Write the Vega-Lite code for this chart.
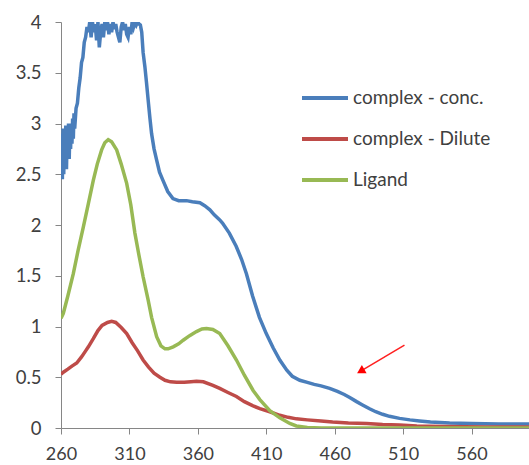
{
  "$schema": "https://vega.github.io/schema/vega-lite/v6.json",
  "width": 468,
  "height": 406,
  "autosize": {"type": "none"},
  "padding": {"left": 61, "top": 22, "right": 0, "bottom": 37},
  "background": "white",
  "config": {
    "view": {"stroke": null},
    "font": "Lato",
    "axis": {"grid": false, "domainColor": "#868686", "tickColor": "#868686", "labelColor": "#404040", "labelFont": "Lato", "labelFontSize": 18.5, "title": null}
  },
  "datasets": {
    "spectra": [
      {"w": 260, "a": 2.62, "s": "complex - conc."},
      {"w": 260.5, "a": 2.9, "s": "complex - conc."},
      {"w": 261, "a": 2.45, "s": "complex - conc."},
      {"w": 261.5, "a": 2.95, "s": "complex - conc."},
      {"w": 262, "a": 2.5, "s": "complex - conc."},
      {"w": 262.5, "a": 2.85, "s": "complex - conc."},
      {"w": 263, "a": 2.6, "s": "complex - conc."},
      {"w": 263.5, "a": 2.98, "s": "complex - conc."},
      {"w": 264, "a": 2.55, "s": "complex - conc."},
      {"w": 264.5, "a": 2.9, "s": "complex - conc."},
      {"w": 265, "a": 2.7, "s": "complex - conc."},
      {"w": 265.5, "a": 3.0, "s": "complex - conc."},
      {"w": 266, "a": 2.65, "s": "complex - conc."},
      {"w": 266.5, "a": 2.95, "s": "complex - conc."},
      {"w": 267, "a": 2.75, "s": "complex - conc."},
      {"w": 267.5, "a": 3.0, "s": "complex - conc."},
      {"w": 268, "a": 2.8, "s": "complex - conc."},
      {"w": 268.5, "a": 3.05, "s": "complex - conc."},
      {"w": 269, "a": 2.85, "s": "complex - conc."},
      {"w": 269.5, "a": 3.1, "s": "complex - conc."},
      {"w": 270, "a": 2.95, "s": "complex - conc."},
      {"w": 271, "a": 3.15, "s": "complex - conc."},
      {"w": 272, "a": 3.2, "s": "complex - conc."},
      {"w": 273, "a": 3.35, "s": "complex - conc."},
      {"w": 274, "a": 3.45, "s": "complex - conc."},
      {"w": 275, "a": 3.6, "s": "complex - conc."},
      {"w": 276, "a": 3.65, "s": "complex - conc."},
      {"w": 277, "a": 3.8, "s": "complex - conc."},
      {"w": 278, "a": 3.85, "s": "complex - conc."},
      {"w": 279, "a": 3.95, "s": "complex - conc."},
      {"w": 280, "a": 3.9, "s": "complex - conc."},
      {"w": 281, "a": 4.0, "s": "complex - conc."},
      {"w": 282, "a": 3.85, "s": "complex - conc."},
      {"w": 283, "a": 4.0, "s": "complex - conc."},
      {"w": 284, "a": 3.9, "s": "complex - conc."},
      {"w": 285, "a": 3.98, "s": "complex - conc."},
      {"w": 286, "a": 3.82, "s": "complex - conc."},
      {"w": 287, "a": 4.0, "s": "complex - conc."},
      {"w": 288, "a": 3.75, "s": "complex - conc."},
      {"w": 289, "a": 3.9, "s": "complex - conc."},
      {"w": 290, "a": 3.98, "s": "complex - conc."},
      {"w": 291, "a": 3.85, "s": "complex - conc."},
      {"w": 292, "a": 4.0, "s": "complex - conc."},
      {"w": 293, "a": 3.92, "s": "complex - conc."},
      {"w": 294, "a": 4.0, "s": "complex - conc."},
      {"w": 295, "a": 3.88, "s": "complex - conc."},
      {"w": 296, "a": 3.98, "s": "complex - conc."},
      {"w": 297, "a": 3.9, "s": "complex - conc."},
      {"w": 298, "a": 4.0, "s": "complex - conc."},
      {"w": 299, "a": 3.93, "s": "complex - conc."},
      {"w": 300, "a": 3.98, "s": "complex - conc."},
      {"w": 301, "a": 3.9, "s": "complex - conc."},
      {"w": 302, "a": 3.85, "s": "complex - conc."},
      {"w": 303, "a": 3.8, "s": "complex - conc."},
      {"w": 304, "a": 3.95, "s": "complex - conc."},
      {"w": 305, "a": 4.0, "s": "complex - conc."},
      {"w": 306, "a": 3.92, "s": "complex - conc."},
      {"w": 307, "a": 3.98, "s": "complex - conc."},
      {"w": 308, "a": 3.88, "s": "complex - conc."},
      {"w": 309, "a": 3.85, "s": "complex - conc."},
      {"w": 310, "a": 3.95, "s": "complex - conc."},
      {"w": 311, "a": 3.88, "s": "complex - conc."},
      {"w": 312, "a": 4.0, "s": "complex - conc."},
      {"w": 313, "a": 3.95, "s": "complex - conc."},
      {"w": 314, "a": 4.0, "s": "complex - conc."},
      {"w": 315, "a": 3.97, "s": "complex - conc."},
      {"w": 316, "a": 4.0, "s": "complex - conc."},
      {"w": 317, "a": 3.98, "s": "complex - conc."},
      {"w": 318, "a": 3.97, "s": "complex - conc."},
      {"w": 319, "a": 3.9, "s": "complex - conc."},
      {"w": 320, "a": 3.7, "s": "complex - conc."},
      {"w": 321.3, "a": 3.56, "s": "complex - conc."},
      {"w": 322.5, "a": 3.4, "s": "complex - conc."},
      {"w": 323.7, "a": 3.23, "s": "complex - conc."},
      {"w": 325, "a": 3.05, "s": "complex - conc."},
      {"w": 326.2, "a": 2.9, "s": "complex - conc."},
      {"w": 328, "a": 2.75, "s": "complex - conc."},
      {"w": 329.9, "a": 2.64, "s": "complex - conc."},
      {"w": 332, "a": 2.52, "s": "complex - conc."},
      {"w": 334.5, "a": 2.44, "s": "complex - conc."},
      {"w": 338, "a": 2.33, "s": "complex - conc."},
      {"w": 341.8, "a": 2.26, "s": "complex - conc."},
      {"w": 346, "a": 2.24, "s": "complex - conc."},
      {"w": 351.7, "a": 2.24, "s": "complex - conc."},
      {"w": 356, "a": 2.23, "s": "complex - conc."},
      {"w": 361.5, "a": 2.22, "s": "complex - conc."},
      {"w": 365, "a": 2.19, "s": "complex - conc."},
      {"w": 368.8, "a": 2.15, "s": "complex - conc."},
      {"w": 372, "a": 2.1, "s": "complex - conc."},
      {"w": 376, "a": 2.05, "s": "complex - conc."},
      {"w": 378, "a": 2.02, "s": "complex - conc."},
      {"w": 383, "a": 1.92, "s": "complex - conc."},
      {"w": 388, "a": 1.79, "s": "complex - conc."},
      {"w": 392, "a": 1.66, "s": "complex - conc."},
      {"w": 395.5, "a": 1.52, "s": "complex - conc."},
      {"w": 400, "a": 1.3, "s": "complex - conc."},
      {"w": 405, "a": 1.09, "s": "complex - conc."},
      {"w": 410, "a": 0.93, "s": "complex - conc."},
      {"w": 415, "a": 0.79, "s": "complex - conc."},
      {"w": 419.9, "a": 0.67, "s": "complex - conc."},
      {"w": 425, "a": 0.57, "s": "complex - conc."},
      {"w": 429, "a": 0.51, "s": "complex - conc."},
      {"w": 434.5, "a": 0.47, "s": "complex - conc."},
      {"w": 440, "a": 0.45, "s": "complex - conc."},
      {"w": 445, "a": 0.43, "s": "complex - conc."},
      {"w": 450, "a": 0.415, "s": "complex - conc."},
      {"w": 456.3, "a": 0.39, "s": "complex - conc."},
      {"w": 462, "a": 0.36, "s": "complex - conc."},
      {"w": 467, "a": 0.33, "s": "complex - conc."},
      {"w": 471, "a": 0.3, "s": "complex - conc."},
      {"w": 476, "a": 0.26, "s": "complex - conc."},
      {"w": 480, "a": 0.23, "s": "complex - conc."},
      {"w": 485.5, "a": 0.19, "s": "complex - conc."},
      {"w": 490, "a": 0.16, "s": "complex - conc."},
      {"w": 495, "a": 0.135, "s": "complex - conc."},
      {"w": 500, "a": 0.115, "s": "complex - conc."},
      {"w": 507.4, "a": 0.095, "s": "complex - conc."},
      {"w": 515, "a": 0.08, "s": "complex - conc."},
      {"w": 522, "a": 0.07, "s": "complex - conc."},
      {"w": 530, "a": 0.06, "s": "complex - conc."},
      {"w": 544, "a": 0.05, "s": "complex - conc."},
      {"w": 560, "a": 0.045, "s": "complex - conc."},
      {"w": 580, "a": 0.04, "s": "complex - conc."},
      {"w": 602, "a": 0.04, "s": "complex - conc."},

      {"w": 260, "a": 0.53, "s": "complex - Dilute"},
      {"w": 261.7, "a": 0.55, "s": "complex - Dilute"},
      {"w": 265, "a": 0.58, "s": "complex - Dilute"},
      {"w": 268, "a": 0.61, "s": "complex - Dilute"},
      {"w": 271.5, "a": 0.64, "s": "complex - Dilute"},
      {"w": 275, "a": 0.7, "s": "complex - Dilute"},
      {"w": 278, "a": 0.76, "s": "complex - Dilute"},
      {"w": 280, "a": 0.8, "s": "complex - Dilute"},
      {"w": 283.6, "a": 0.88, "s": "complex - Dilute"},
      {"w": 287, "a": 0.96, "s": "complex - Dilute"},
      {"w": 290, "a": 1.01, "s": "complex - Dilute"},
      {"w": 294, "a": 1.04, "s": "complex - Dilute"},
      {"w": 297, "a": 1.05, "s": "complex - Dilute"},
      {"w": 300, "a": 1.04, "s": "complex - Dilute"},
      {"w": 304, "a": 0.99, "s": "complex - Dilute"},
      {"w": 308, "a": 0.93, "s": "complex - Dilute"},
      {"w": 312, "a": 0.84, "s": "complex - Dilute"},
      {"w": 316, "a": 0.76, "s": "complex - Dilute"},
      {"w": 320, "a": 0.67, "s": "complex - Dilute"},
      {"w": 324, "a": 0.6, "s": "complex - Dilute"},
      {"w": 328, "a": 0.54, "s": "complex - Dilute"},
      {"w": 332.3, "a": 0.5, "s": "complex - Dilute"},
      {"w": 336, "a": 0.47, "s": "complex - Dilute"},
      {"w": 340, "a": 0.455, "s": "complex - Dilute"},
      {"w": 344.5, "a": 0.45, "s": "complex - Dilute"},
      {"w": 350, "a": 0.45, "s": "complex - Dilute"},
      {"w": 355, "a": 0.455, "s": "complex - Dilute"},
      {"w": 359, "a": 0.46, "s": "complex - Dilute"},
      {"w": 364, "a": 0.455, "s": "complex - Dilute"},
      {"w": 371, "a": 0.42, "s": "complex - Dilute"},
      {"w": 376, "a": 0.39, "s": "complex - Dilute"},
      {"w": 382, "a": 0.35, "s": "complex - Dilute"},
      {"w": 388.2, "a": 0.31, "s": "complex - Dilute"},
      {"w": 394, "a": 0.26, "s": "complex - Dilute"},
      {"w": 400, "a": 0.22, "s": "complex - Dilute"},
      {"w": 405.3, "a": 0.19, "s": "complex - Dilute"},
      {"w": 412.6, "a": 0.16, "s": "complex - Dilute"},
      {"w": 419.9, "a": 0.125, "s": "complex - Dilute"},
      {"w": 426, "a": 0.105, "s": "complex - Dilute"},
      {"w": 432, "a": 0.09, "s": "complex - Dilute"},
      {"w": 440, "a": 0.08, "s": "complex - Dilute"},
      {"w": 450, "a": 0.07, "s": "complex - Dilute"},
      {"w": 458.5, "a": 0.06, "s": "complex - Dilute"},
      {"w": 470, "a": 0.05, "s": "complex - Dilute"},
      {"w": 483.4, "a": 0.045, "s": "complex - Dilute"},
      {"w": 495, "a": 0.035, "s": "complex - Dilute"},
      {"w": 507.4, "a": 0.03, "s": "complex - Dilute"},
      {"w": 520, "a": 0.02, "s": "complex - Dilute"},
      {"w": 540, "a": 0.015, "s": "complex - Dilute"},
      {"w": 570, "a": 0.01, "s": "complex - Dilute"},
      {"w": 602, "a": 0.01, "s": "complex - Dilute"},

      {"w": 260, "a": 1.08, "s": "Ligand"},
      {"w": 261.7, "a": 1.13, "s": "Ligand"},
      {"w": 265, "a": 1.3, "s": "Ligand"},
      {"w": 269, "a": 1.52, "s": "Ligand"},
      {"w": 272.5, "a": 1.75, "s": "Ligand"},
      {"w": 276.3, "a": 1.98, "s": "Ligand"},
      {"w": 280, "a": 2.21, "s": "Ligand"},
      {"w": 283.6, "a": 2.44, "s": "Ligand"},
      {"w": 286.5, "a": 2.6, "s": "Ligand"},
      {"w": 289.7, "a": 2.74, "s": "Ligand"},
      {"w": 292, "a": 2.81, "s": "Ligand"},
      {"w": 294.5, "a": 2.84, "s": "Ligand"},
      {"w": 297, "a": 2.82, "s": "Ligand"},
      {"w": 300.7, "a": 2.74, "s": "Ligand"},
      {"w": 304, "a": 2.6, "s": "Ligand"},
      {"w": 308, "a": 2.41, "s": "Ligand"},
      {"w": 311, "a": 2.2, "s": "Ligand"},
      {"w": 314, "a": 1.92, "s": "Ligand"},
      {"w": 317, "a": 1.7, "s": "Ligand"},
      {"w": 320, "a": 1.49, "s": "Ligand"},
      {"w": 323.7, "a": 1.26, "s": "Ligand"},
      {"w": 326.2, "a": 1.09, "s": "Ligand"},
      {"w": 329.9, "a": 0.9, "s": "Ligand"},
      {"w": 333, "a": 0.81, "s": "Ligand"},
      {"w": 336, "a": 0.78, "s": "Ligand"},
      {"w": 338.3, "a": 0.78, "s": "Ligand"},
      {"w": 342, "a": 0.8, "s": "Ligand"},
      {"w": 346, "a": 0.83, "s": "Ligand"},
      {"w": 349.3, "a": 0.865, "s": "Ligand"},
      {"w": 354, "a": 0.91, "s": "Ligand"},
      {"w": 359, "a": 0.95, "s": "Ligand"},
      {"w": 363, "a": 0.975, "s": "Ligand"},
      {"w": 366.3, "a": 0.98, "s": "Ligand"},
      {"w": 371, "a": 0.97, "s": "Ligand"},
      {"w": 376, "a": 0.93, "s": "Ligand"},
      {"w": 382, "a": 0.81, "s": "Ligand"},
      {"w": 388.2, "a": 0.67, "s": "Ligand"},
      {"w": 394, "a": 0.52, "s": "Ligand"},
      {"w": 400.4, "a": 0.37, "s": "Ligand"},
      {"w": 405.3, "a": 0.28, "s": "Ligand"},
      {"w": 412.6, "a": 0.17, "s": "Ligand"},
      {"w": 419.9, "a": 0.1, "s": "Ligand"},
      {"w": 427.2, "a": 0.045, "s": "Ligand"},
      {"w": 432, "a": 0.02, "s": "Ligand"},
      {"w": 440, "a": 0.005, "s": "Ligand"},
      {"w": 450, "a": 0, "s": "Ligand"},
      {"w": 480, "a": 0, "s": "Ligand"},
      {"w": 520, "a": 0, "s": "Ligand"},
      {"w": 560, "a": 0, "s": "Ligand"},
      {"w": 602, "a": 0, "s": "Ligand"}
    ],
    "arrow": [
      {"w": 511, "a": 0.816, "w2": 479, "a2": 0.56}
    ]
  },
  "layer": [
    {
      "data": {"name": "spectra"},
      "mark": {"type": "line", "strokeWidth": 3.5, "clip": true, "interpolate": "linear"},
      "encoding": {
        "x": {"field": "w", "type": "quantitative", "scale": {"domain": [260, 602], "nice": false, "zero": false},
              "axis": {"values": [260, 310, 360, 410, 460, 510, 560], "tickSize": 6, "labelPadding": 11, "labelFontSize": 18, "labelFlush": false}},
        "y": {"field": "a", "type": "quantitative", "scale": {"domain": [0, 4], "nice": false},
              "axis": {"values": [0, 0.5, 1, 1.5, 2, 2.5, 3, 3.5, 4], "format": "~g", "tickSize": 6, "labelPadding": 14}},
        "color": {"field": "s", "type": "nominal",
                  "scale": {"domain": ["complex - conc.", "complex - Dilute", "Ligand"], "range": ["#4a7ebb", "#be4b48", "#98b954"]},
                  "legend": {"orient": "none", "legendX": 239, "legendY": 51, "title": null, "symbolType": "stroke", "symbolSize": 2116, "symbolStrokeWidth": 4, "labelFontSize": 19, "labelColor": "#404040", "labelFont": "Lato", "labelOffset": 3, "rowPadding": 6, "padding": 0}},
        "order": {"field": "w", "type": "quantitative"}
      }
    },
    {
      "data": {"name": "arrow"},
      "mark": {"type": "rule", "color": "#ff2020", "strokeWidth": 1.5},
      "encoding": {
        "x": {"field": "w", "type": "quantitative"},
        "y": {"field": "a", "type": "quantitative"},
        "x2": {"field": "w2"},
        "y2": {"field": "a2"}
      }
    },
    {
      "data": {"name": "arrow"},
      "mark": {"type": "point", "shape": "triangle-up", "filled": true, "color": "#ff0000", "size": 90, "angle": 240, "opacity": 1},
      "encoding": {
        "x": {"field": "w2", "type": "quantitative"},
        "y": {"field": "a2", "type": "quantitative"}
      }
    }
  ]
}
